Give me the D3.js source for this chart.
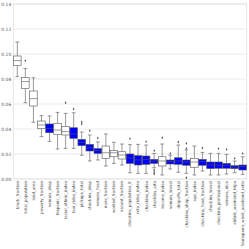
<!DOCTYPE html>
<html>
<head>
<meta charset="utf-8">
<script src="https://cdn.jsdelivr.net/npm/d3@7"></script>
<style>
  body { margin: 0; background: #fff; }
  svg { display: block; }
</style>
</head>
<body>
<div id="chart"></div>
<script>
// Feature names, in plotted order
const features = [
    'black_fraction', 'total_population', 'land_area', 'poverty_fraction', 'venues_shop',
    'hispanic_fraction', 'racial_ethnic_index', 'taxi_rides_index', 'pickups_total', 'checkins_shop',
    'venues_food', 'male_fraction', 'worked_fraction', 'vacant_fraction', 'checkins_population_fr',
    'mta_rides_index', 'checkins_index', 'checkins_arts', 'income_index', 'venues_travel',
    'dropoffs_total', 'checkins_shop_fraction', 'age_index', 'checkins_food_fraction', 'checkins_travel',
    'checkins_professional', 'venues_nice', 'airbnb_weekend_trips', 'foursquare_week_weekend_ratio'
];

// Box statistics
const whiskerLow = [0.0819, 0.061, 0.0454, 0.0339, 0.0301, 0.024, 0.0245, 0.0245, 0.019, 0.0144,
    0.0152, 0.0104, 0.0125, 0.0112, 0.005, 0.0045, 0.0045, 0.009, 0.0032, 0.008,
    0.0054, 0.0045, 0.0032, 0.0064, 0.0032, 0.0032, 0.004, 0.005, 0.0037];
const q1 = [0.0907, 0.0725, 0.0584, 0.0403, 0.037, 0.0357, 0.0352, 0.0325, 0.0267, 0.0224,
    0.0205, 0.0165, 0.0178, 0.016, 0.0124, 0.0112, 0.0117, 0.0125, 0.0104, 0.012,
    0.0117, 0.011, 0.0094, 0.011, 0.0083, 0.0086, 0.0086, 0.0083, 0.0072];
const medians = [0.0947, 0.078, 0.0643, 0.0432, 0.0405, 0.0392, 0.0379, 0.036, 0.0293, 0.025,
    0.0227, 0.021, 0.021, 0.0192, 0.0168, 0.0152, 0.0157, 0.0144, 0.0144, 0.0139,
    0.0144, 0.0136, 0.0136, 0.0139, 0.0112, 0.011, 0.011, 0.0096, 0.0099];
const q3 = [0.0984, 0.0813, 0.0704, 0.0464, 0.044, 0.0445, 0.0421, 0.041, 0.0317, 0.0277,
    0.0243, 0.0264, 0.0227, 0.0218, 0.02, 0.0187, 0.0184, 0.0157, 0.0178, 0.0152,
    0.017, 0.0152, 0.0165, 0.0157, 0.0136, 0.0136, 0.0125, 0.0107, 0.0112];
const whiskerHigh = [0.1096, 0.0883, 0.081, 0.0507, 0.0504, 0.0533, 0.0525, 0.053, 0.0376, 0.0352,
    0.0296, 0.036, 0.0294, 0.028, 0.0275, 0.0277, 0.0272, 0.0205, 0.028, 0.019,
    0.0272, 0.0232, 0.0264, 0.0213, 0.0205, 0.0205, 0.0197, 0.0144, 0.0178];
const outliers = [[], [0.0947], [], [], [], [], [0.061], [0.056], [0.0456, 0.044], [0.0387],
    [0.0328], [], [], [], [0.0323], [], [0.0299], [0.0227, 0.0072, 0.0055, 0.004], [0.033], [0.0205],
    [0.0296], [0.0285, 0.0245, 0.001], [], [0.0248], [], [0.0243], [0.0237], [0.0165], [0.0205]];
// 1 = blue box, 0 = white box
const highlighted = [0, 0, 0, 0, 1, 0, 0, 1, 1, 1, 1, 0, 0, 0, 1, 1, 1, 1, 0, 1, 1, 1, 0, 1, 1, 1, 1, 1, 1];
const yTicks = [0, 0.02, 0.04, 0.06, 0.08, 0.10, 0.12, 0.14];

const W = 249, H = 249;
const margin = { top: 4, right: 2.3, bottom: 70, left: 13.3 };

const svg = d3.select('#chart').append('svg')
    .attr('width', W)
    .attr('height', H);

const x = d3.scaleBand()
    .domain(features)
    .range([margin.left, W - margin.right])
    .paddingInner(0.06)
    .paddingOuter(0.03);

const y = d3.scaleLinear()
    .domain([0, 0.14])
    .range([H - margin.bottom, margin.top]);

// grid
svg.append('g')
    .selectAll('line')
    .data(yTicks)
    .enter()
    .append('line')
    .attr('x1', margin.left)
    .attr('x2', W - margin.right)
    .attr('y1', d => y(d))
    .attr('y2', d => y(d))
    .attr('stroke', '#e6e6e6')
    .attr('stroke-width', 0.8);

// frame
svg.append('rect')
    .attr('x', margin.left)
    .attr('y', margin.top)
    .attr('width', W - margin.right - margin.left)
    .attr('height', H - margin.bottom - margin.top)
    .attr('fill', 'none')
    .attr('stroke', '#e0e0e0')
    .attr('stroke-width', 0.8);

// y axis
const yAxis = svg.append('g')
    .attr('transform', `translate(${margin.left},0)`)
    .call(d3.axisLeft(y).tickValues(yTicks).tickFormat(d3.format('.2f')).tickSize(0).tickPadding(2));
yAxis.select('.domain').remove();
yAxis.selectAll('text')
    .attr('font-family', 'DejaVu Sans')
    .attr('font-size', 4.5)
    .attr('fill', '#555');

// x axis labels
const xAxis = svg.append('g')
    .attr('transform', `translate(0,${H - margin.bottom})`)
    .call(d3.axisBottom(x).tickSize(0).tickPadding(0));
xAxis.select('.domain').remove();
xAxis.selectAll('text')
    .attr('font-family', 'DejaVu Sans')
    .attr('font-size', 4)
    .attr('fill', '#444')
    .attr('text-anchor', 'end')
    .attr('dy', '0.35em')
    .attr('transform', 'translate(0,2) rotate(-90)')
    .attr('x', 0)
    .attr('y', 0);

const stroke = '#555';
const boxes = svg.append('g')
    .selectAll('g')
    .data(features)
    .enter()
    .append('g')
    .attr('transform', d => `translate(${x(d) + x.bandwidth() / 2},0)`);

const bw = x.bandwidth();

// whiskers
boxes.append('line')
    .attr('x1', 0).attr('x2', 0)
    .attr('y1', (d, i) => y(whiskerHigh[i]))
    .attr('y2', (d, i) => y(q3[i]))
    .attr('stroke', stroke).attr('stroke-width', 0.6);
boxes.append('line')
    .attr('x1', 0).attr('x2', 0)
    .attr('y1', (d, i) => y(q1[i]))
    .attr('y2', (d, i) => y(whiskerLow[i]))
    .attr('stroke', stroke).attr('stroke-width', 0.6);
// caps
boxes.append('line')
    .attr('x1', -bw / 4).attr('x2', bw / 4)
    .attr('y1', (d, i) => y(whiskerHigh[i]))
    .attr('y2', (d, i) => y(whiskerHigh[i]))
    .attr('stroke', stroke).attr('stroke-width', 0.6);
boxes.append('line')
    .attr('x1', -bw / 4).attr('x2', bw / 4)
    .attr('y1', (d, i) => y(whiskerLow[i]))
    .attr('y2', (d, i) => y(whiskerLow[i]))
    .attr('stroke', stroke).attr('stroke-width', 0.6);
// box
boxes.append('rect')
    .attr('x', -bw / 2)
    .attr('width', bw)
    .attr('y', (d, i) => y(q3[i]))
    .attr('height', (d, i) => y(q1[i]) - y(q3[i]))
    .attr('fill', (d, i) => highlighted[i] ? '#0000ff' : '#ffffff')
    .attr('stroke', stroke)
    .attr('stroke-width', 0.6);
// median
boxes.append('line')
    .attr('x1', -bw / 2).attr('x2', bw / 2)
    .attr('y1', (d, i) => y(medians[i]))
    .attr('y2', (d, i) => y(medians[i]))
    .attr('stroke', stroke).attr('stroke-width', 0.6);
// outliers
boxes.each(function(d, i) {
    d3.select(this).selectAll('path')
        .data(outliers[i])
        .enter()
        .append('path')
        .attr('d', d3.symbol().type(d3.symbolDiamond).size(2.5))
        .attr('transform', v => `translate(0,${y(v)})`)
        .attr('fill', '#555');
});
</script>
</body>
</html>
